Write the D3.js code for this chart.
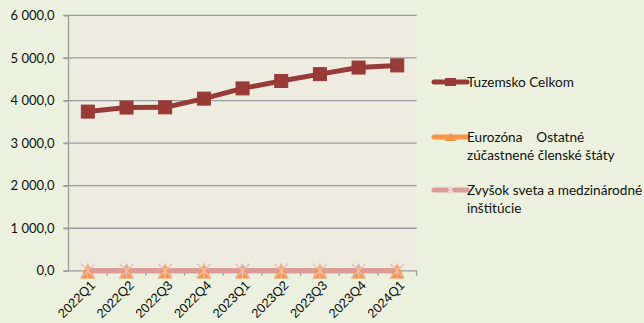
<!DOCTYPE html>
<html>
<head>
<meta charset="utf-8">
<script src="https://cdn.jsdelivr.net/npm/d3@7"></script>
<style>
  html, body { margin: 0; padding: 0; background: #EBF1DE; }
  svg { display: block; font-family: Lato, "Open Sans", sans-serif; }
</style>
</head>
<body>
<svg id="chart" width="644" height="323"></svg>
<script>
// Quarterly categories
const quarters = ["2022Q1","2022Q2","2022Q3","2022Q4","2023Q1","2023Q2","2023Q3","2023Q4","2024Q1"];

// Series values
const tuzemsko = [3740, 3835, 3840, 4045, 4285, 4460, 4620, 4775, 4825];
const eurozona = [0, 0, 0, 0, 0, 0, 0, 0, 0];
const zvysok   = [0, 0, 0, 0, 0, 0, 0, 0, 0];

// Y axis ticks
const yTicks = [0, 1000, 2000, 3000, 4000, 5000, 6000];

const seriesNames = [
  ["Tuzemsko Celkom"],
  ["Eurozóna    Ostatné", "zúčastnené členské štáty"],
  ["Zvyšok sveta a medzinárodné", "inštitúcie"]
];

const series = [
  { name: seriesNames[0], values: tuzemsko, color: "#983A37", marker: "square" },
  { name: seriesNames[1], values: eurozona, color: "#F79646", marker: "triangle" },
  { name: seriesNames[2], values: zvysok,   color: "#D99C9A", marker: "star" }
];

const svg = d3.select("#chart");
const plot = { left: 68.5, right: 416.6, top: 15.4, bottom: 270.8 };

const x = d3.scaleBand().domain(quarters).range([plot.left, plot.right]).padding(0);
const y = d3.scaleLinear().domain([0, 6000]).range([plot.bottom, plot.top]);
const cx = d => x(d) + x.bandwidth() / 2;

// Plot area background
svg.append("rect")
  .attr("x", plot.left).attr("y", plot.top - 0.5)
  .attr("width", plot.right - plot.left).attr("height", plot.bottom - plot.top + 0.5)
  .attr("fill", "#EEECE1");

// Horizontal gridlines
svg.append("g").selectAll("line").data(yTicks.filter(t => t > 0)).join("line")
  .attr("x1", plot.left - 5).attr("x2", plot.right)
  .attr("y1", d => y(d)).attr("y2", d => y(d))
  .attr("stroke", "#9C9C9C").attr("stroke-width", 1.3);

// Y axis
const yAxis = d3.axisLeft(y).tickValues(yTicks).tickSize(5).tickPadding(9)
  .tickFormat(d => d3.format(",.1f")(d).replace(/,/g, " ").replace(".", ","));
const gy = svg.append("g").attr("transform", `translate(${plot.left},0)`).call(yAxis);
gy.select(".domain").attr("stroke", "#9C9C9C").attr("stroke-width", 1.3)
  .attr("d", `M0,${plot.top}V${plot.bottom}`);
gy.selectAll(".tick line").attr("stroke", "#9C9C9C").attr("stroke-width", 1.3);
gy.selectAll(".tick text").attr("font-size", 13).attr("fill", "#111")
  .attr("font-family", "Lato, 'Open Sans', sans-serif");

// X axis
const xAxis = d3.axisBottom(x).tickValues(quarters).tickSize(0).tickFormat("");
const gx = svg.append("g").attr("transform", `translate(0,${plot.bottom})`).call(xAxis);
gx.select(".domain").attr("stroke", "#9C9C9C").attr("stroke-width", 1.3)
  .attr("d", `M${plot.left - 5},0H${plot.right}V5`);
// category boundary ticks
gx.append("g").selectAll("line").data(quarters.slice(1)).join("line")
  .attr("x1", d => x(d)).attr("x2", d => x(d)).attr("y1", 0).attr("y2", 5)
  .attr("stroke", "#9C9C9C").attr("stroke-width", 1.3);
gx.append("g").selectAll("text").data(quarters).join("text")
  .attr("transform", d => `translate(${cx(d) + 5},${12}) rotate(-45)`)
  .attr("text-anchor", "end").attr("dy", "0.35em")
  .attr("font-size", 13).attr("fill", "#111")
  .text(d => d);

// Marker shapes
function drawMarker(g, type, color, s) {
  if (type === "square") {
    g.append("rect").attr("x", -s / 2).attr("y", -s / 2).attr("width", s).attr("height", s)
      .attr("fill", color).attr("stroke", color).attr("stroke-width", 1);
  } else if (type === "triangle") {
    g.append("path").attr("d", `M0,${-s / 2}L${s * 0.48},${s / 2}L${-s * 0.48},${s / 2}Z`)
      .attr("fill", color);
  } else {
    const r = s / 2;
    g.append("path")
      .attr("d", `M${-r},${-r}L${r},${r}M${-r},${r}L${r},${-r}M0,${-r}V${r}`)
      .attr("stroke", color).attr("stroke-width", 1.3).attr("fill", "none");
  }
}

const line = d3.line().x((d, i) => cx(quarters[i])).y(d => y(d));
const linesG = svg.append("g");
const markersG = svg.append("g");

// Lines first, then markers on top
series.forEach(s => {
  linesG.append("path").datum(s.values).attr("d", line)
    .attr("fill", "none").attr("stroke", s.color).attr("stroke-width", 5)
    .attr("stroke-linejoin", "round");
});
series.forEach(s => {
  const g = markersG.append("g");
  s.values.forEach((v, i) => {
    const m = g.append("g").attr("transform", `translate(${cx(quarters[i])},${y(v)})`);
    if (s.marker === "square") drawMarker(m, "square", s.color, 13);
    else if (s.marker === "triangle") drawMarker(m, "triangle", s.color, 15.5);
    else drawMarker(m, "star", "#E8BDBB", 14);
  });
});

// Legend
const legendY = [82, 137, 190];
const legend = svg.append("g");
series.forEach((s, i) => {
  const g = legend.append("g").attr("transform", `translate(0,${legendY[i]})`);
  g.append("line").attr("x1", 434).attr("x2", 467).attr("y1", 0).attr("y2", 0)
    .attr("stroke", s.color).attr("stroke-width", 5).attr("stroke-linecap", "round");
  const m = g.append("g").attr("transform", "translate(450.5,0)");
  if (s.marker === "square") {
    m.append("rect").attr("x", -5.5).attr("y", -4).attr("width", 11).attr("height", 8).attr("fill", s.color);
  } else if (s.marker === "triangle") {
    m.append("path").attr("d", "M0,-4L6,4L-6,4Z").attr("fill", s.color);
  } else {
    drawMarker(m, "star", "#F2DCDB", 8);
  }
  const t = g.append("text").attr("x", 467).attr("y", 0)
    .attr("font-size", 13.6).attr("fill", "#111");
  s.name.forEach((ln, j) => {
    t.append("tspan").attr("x", 467).attr("dy", j === 0 ? "0.35em" : "18px")
      .attr("xml:space", "preserve").style("white-space", "pre").text(ln);
  });
});
</script>
</body>
</html>
